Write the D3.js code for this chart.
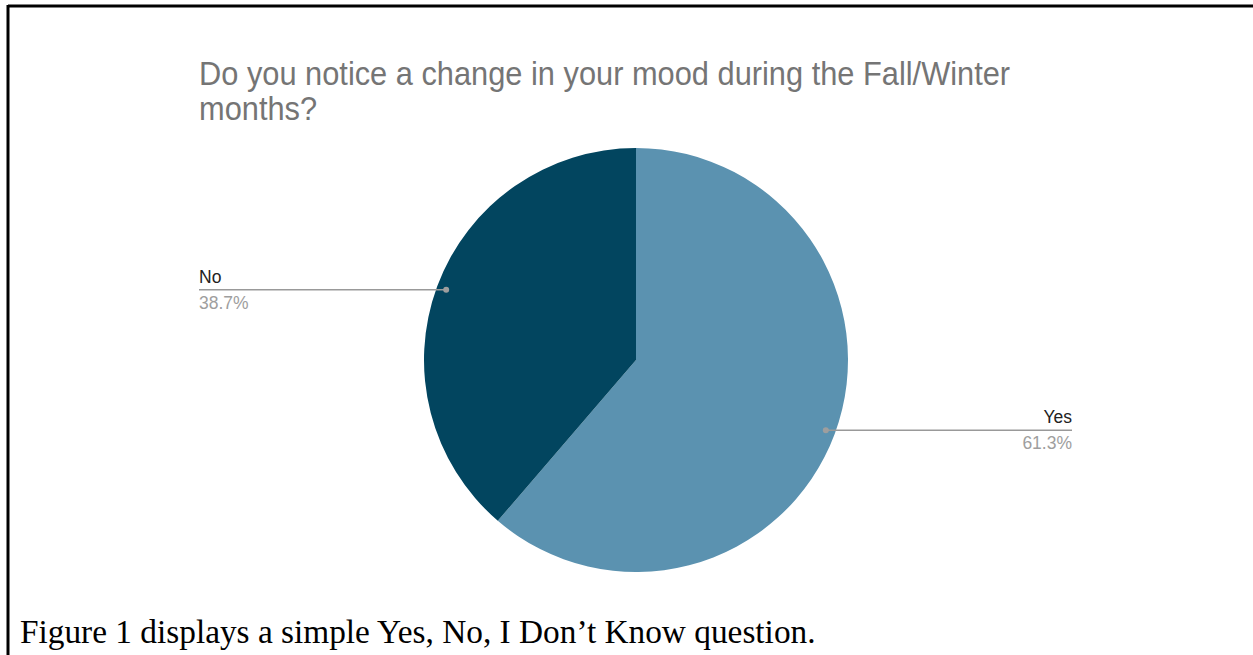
<!DOCTYPE html>
<html>
<head>
<meta charset="utf-8">
<script src="https://cdn.jsdelivr.net/npm/d3@7"></script>
<style>
  html, body { margin: 0; padding: 0; background: #fff; }
  svg { display: block; }
</style>
</head>
<body>
<svg id="chart" width="1253" height="655"></svg>
<script>
const categories = ["Yes", "No"];
const values = [61.3, 38.7];
const percentLabels = ["61.3%", "38.7%"];
const colors = ["#5b92b0", "#02455f"];
const titleLines = ["Do you notice a change in your mood during the Fall/Winter", "months?"];
const caption = "Figure 1 displays a simple Yes, No, I Don\u2019t Know question.";

const svg = d3.select("#chart");
const W = 1253, H = 655;

// page border (top and left)
svg.append("line").attr("x1", 8).attr("y1", 6).attr("x2", W).attr("y2", 6)
  .attr("stroke", "#000").attr("stroke-width", 3);
svg.append("line").attr("x1", 8).attr("y1", 5).attr("x2", 8).attr("y2", H)
  .attr("stroke", "#000").attr("stroke-width", 3);

// title
const title = svg.append("g");
const t1 = title.append("text")
  .attr("transform", "translate(199,85) scale(1,1.1)")
  .attr("font-family", "Liberation Sans, Arial, sans-serif")
  .attr("font-size", 27).attr("fill", "#757575").text(titleLines[0]);
const targetW = 811;
const w1 = t1.node().getComputedTextLength();
const titleSize = 27 * targetW / w1;
t1.attr("font-size", titleSize);
title.append("text")
  .attr("transform", "translate(199,120) scale(1,1.1)")
  .attr("font-family", "Liberation Sans, Arial, sans-serif")
  .attr("font-size", titleSize).attr("fill", "#757575").text(titleLines[1]);

// pie
const cx = 636, cy = 360, R = 212;
const data = categories.map((c, i) => ({ cat: c, value: values[i], pct: percentLabels[i], color: colors[i] }));
const pie = d3.pie().value(d => d.value).sort(null);
const arcs = pie(data);
const arc = d3.arc().innerRadius(0).outerRadius(R);
const g = svg.append("g").attr("transform", `translate(${cx},${cy})`);
g.selectAll("path").data(arcs).enter().append("path")
  .attr("d", arc).attr("fill", d => d.data.color);

// leader lines and labels
const labelXLeft = 199 - cx, labelXRight = 1072 - cx;
arcs.forEach(a => {
  const mid = (a.startAngle + a.endAngle) / 2;
  const r = R * 0.955;
  const px = r * Math.sin(mid), py = -r * Math.cos(mid);
  const right = px > 0;
  const ex = right ? labelXRight : labelXLeft;
  g.append("line").attr("x1", px).attr("y1", py).attr("x2", ex).attr("y2", py)
    .attr("stroke", "#999").attr("stroke-width", 1.5);
  g.append("circle").attr("cx", px).attr("cy", py).attr("r", 3).attr("fill", "#9e9e9e");
  g.append("text").attr("x", ex).attr("y", py - 7)
    .attr("text-anchor", right ? "end" : "start")
    .attr("font-family", "Liberation Sans, Arial, sans-serif")
    .attr("font-size", 17.5).attr("fill", "#222").text(a.data.cat);
  g.append("text").attr("x", ex).attr("y", py + 19)
    .attr("text-anchor", right ? "end" : "start")
    .attr("font-family", "Liberation Sans, Arial, sans-serif")
    .attr("font-size", 17.5).attr("fill", "#9e9e9e").text(a.data.pct);
});

// caption
const cap = svg.append("text").attr("x", 20).attr("y", 643)
  .attr("font-family", "Liberation Serif, Times New Roman, serif")
  .attr("font-size", 24).attr("fill", "#000").text(caption);
const cw = cap.node().getComputedTextLength();
cap.attr("font-size", 24 * 796 / cw);
</script>
</body>
</html>
